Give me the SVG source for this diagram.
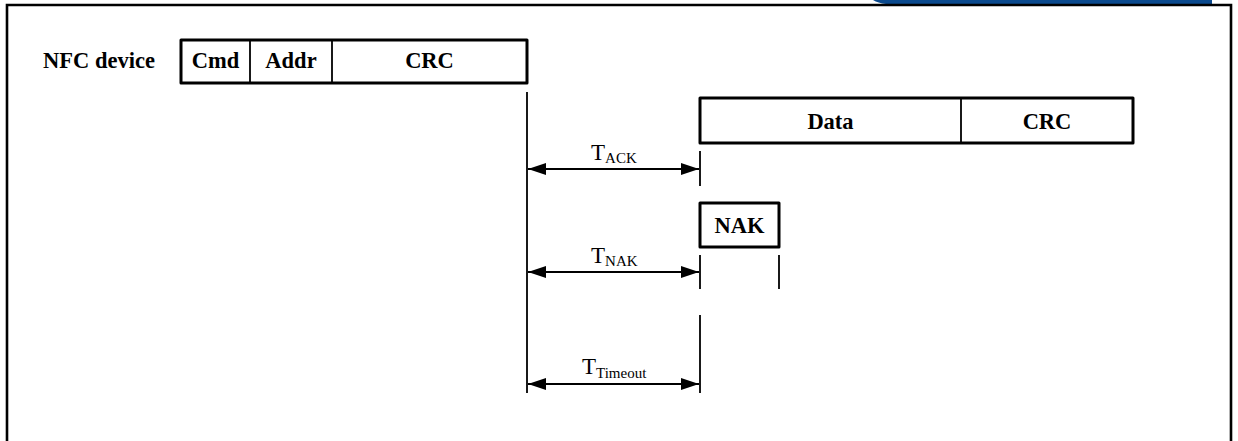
<svg xmlns="http://www.w3.org/2000/svg" width="1238" height="441" viewBox="0 0 1238 441">
<style>
.frame{fill:none;stroke:#000;stroke-width:2.6}
.box{fill:#fff;stroke:#000;stroke-width:3;stroke-linejoin:round}
.div{stroke:#000;stroke-width:1.8}
.lbl{font-family:"Liberation Serif","Times New Roman",serif;font-weight:bold;font-size:22.5px;fill:#000;text-anchor:middle}
.t{font-family:"Liberation Serif","Times New Roman",serif;font-size:23px;fill:#000}
.sub{font-size:15px}
.vl{stroke:#000;stroke-width:1.8;fill:none}
.arr{stroke:#000;stroke-width:2;fill:none;marker-start:url(#ah);marker-end:url(#ah)}
</style>
<defs>
<marker id="ah" viewBox="0 0 18 12" refX="18" refY="6" markerWidth="18" markerHeight="12" markerUnits="userSpaceOnUse" orient="auto-start-reverse">
<path d="M0,0 L18,6 L0,12 Z" fill="#000"/>
</marker>
</defs>
<rect x="0" y="0" width="1238" height="441" fill="#fff"/>
<path d="M873,0 L1212,0 L1212,4 L886,4 Q878,3 873,0 Z" fill="#0b4a8e"/>
<path class="frame" d="M7,441 L7,5 L1231,5 L1231,441"/>

<g id="nfc-label"><text class="lbl" x="99" y="68">NFC device</text></g>
<g id="cmd-frame">
<rect class="box" x="181" y="40" width="346" height="43"/>
<line class="div" x1="250" y1="40" x2="250" y2="83"/>
<line class="div" x1="332" y1="40" x2="332" y2="83"/>
<text class="lbl" x="215.5" y="68">Cmd</text>
<text class="lbl" x="291" y="68">Addr</text>
<text class="lbl" x="429.5" y="68">CRC</text>
</g>
<g id="data-frame">
<rect class="box" x="700" y="98" width="433" height="45"/>
<line class="div" x1="961" y1="98" x2="961" y2="143"/>
<text class="lbl" x="830.5" y="129">Data</text>
<text class="lbl" x="1047" y="129">CRC</text>
</g>
<g id="nak-frame">
<rect class="box" x="700" y="203" width="79" height="44"/>
<text class="lbl" x="739.5" y="233">NAK</text>
</g>

<g id="connectors">
<line class="vl" x1="527" y1="92" x2="527" y2="393"/>
<line class="vl" x1="700" y1="151" x2="700" y2="186"/>
<line class="vl" x1="700" y1="255" x2="700" y2="289"/>
<line class="vl" x1="779" y1="255" x2="779" y2="289"/>
<line class="vl" x1="700" y1="315" x2="700" y2="393"/>
<line class="arr" x1="528" y1="169" x2="699" y2="169"/>
<line class="arr" x1="528" y1="272" x2="699" y2="272"/>
<line class="arr" x1="528" y1="384" x2="699" y2="384"/>
</g>
<g id="t-ack"><text class="t" x="591" y="160">T<tspan class="sub" dy="3">ACK</tspan></text></g>
<g id="t-nak"><text class="t" x="591" y="263">T<tspan class="sub" dy="3">NAK</tspan></text></g>
<g id="t-timeout"><text class="t" x="582" y="374">T<tspan class="sub" dy="4">Timeout</tspan></text></g>
</svg>
